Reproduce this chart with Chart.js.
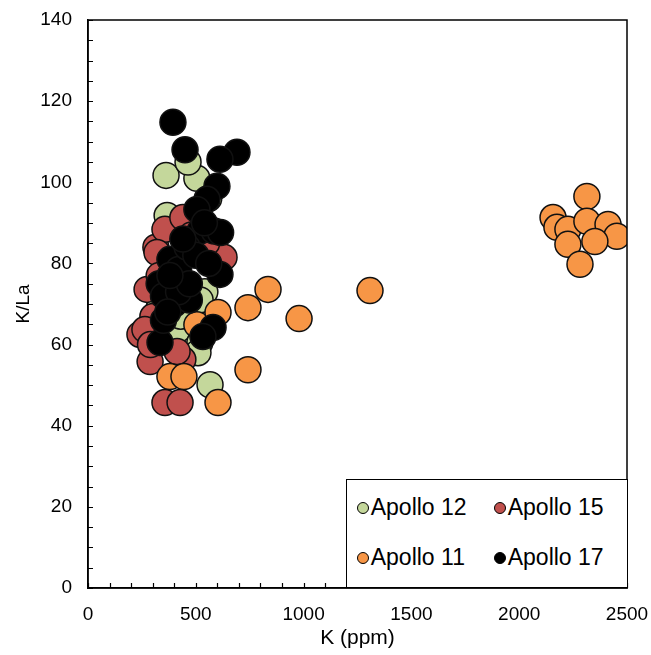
<!DOCTYPE html>
<html>
<head>
<meta charset="utf-8">
<script src="https://cdn.jsdelivr.net/npm/chart.js@4.4.1/dist/chart.umd.min.js"></script>
<style>
  html, body { margin: 0; padding: 0; background: #fff; }
  #wrap { position: relative; width: 651px; height: 655px; }
  #legend {
    position: absolute; background: #fff; border: 1.5px solid #000; box-sizing: border-box;
    font-family: "Liberation Sans", Arial, sans-serif; font-size: 23px; color: #000;
  }
  .item { position: absolute; display: flex; align-items: center; white-space: nowrap; }
  .dot { width: 12px; height: 12px; border-radius: 50%; border: 1.2px solid #000; box-sizing: border-box; margin-right: 2px; }
</style>
</head>
<body>
<div id="wrap">
  <canvas id="chart" width="651" height="655"></canvas>
  <div id="legend"></div>
</div>
<script>
// K (ppm) vs K/La
const apollo12K  = [362, 505, 367, 464, 417, 519, 510, 566, 542, 560, 430, 520, 450, 330]
const apollo12KL = [101.7, 101, 91.8, 105, 63.7, 60.5, 58, 50.1, 73, 96, 67, 71, 75, 69]

const apollo15K  = [315, 357, 440, 631, 274, 241, 288, 440, 357, 427, 301, 264, 413, 320, 550, 480, 330, 380, 290]
const apollo15KL = [84, 88.4, 91.3, 81.5, 73.6, 62.5, 55.8, 56.3, 45.7, 45.7, 66.9, 63.7, 58.3, 82.7, 85, 87, 77, 70, 60]

const apollo11K  = [380, 445, 505, 603, 603, 742, 742, 835, 979, 1308,
                    2314, 2157, 2175, 2226, 2314, 2412, 2453, 2351, 2226, 2282]
const apollo11KL = [52.1, 52.1, 64.9, 67.9, 45.7, 53.8, 69.1, 73.6, 66.4, 73.3,
                    96.5, 91.3, 88.9, 88.4, 90.4, 89.6, 86.7, 85.4, 84.7, 79.8]

const apollo17K  = [394, 450, 691, 612, 598, 552, 505, 520, 585, 615, 612, 334, 580, 533, 380,
                    420, 330, 400, 470, 350, 460, 500, 560, 350, 420, 370, 470, 540, 440, 380]
const apollo17KL = [114.8, 108, 107.4, 105.7, 99, 95.8, 93.3, 88, 88, 87.6, 77.3, 60.5, 64.2, 62, 81,
                    78.5, 75, 70, 71, 66, 84, 82, 80, 72, 73, 68, 75, 90, 86, 77]

// later in the list = drawn on top
const series = [
  { label: "Apollo 12", xs: apollo12K, ys: apollo12KL, color: "#C4D79B" },
  { label: "Apollo 15", xs: apollo15K, ys: apollo15KL, color: "#C0504D" },
  { label: "Apollo 11", xs: apollo11K, ys: apollo11KL, color: "#F79646" },
  { label: "Apollo 17", xs: apollo17K, ys: apollo17KL, color: "#000000" }
]

const font = "'Liberation Sans', Arial, sans-serif"

// inward minor ticks + top/right frame, like the Excel original
const frame = {
  id: "frame",
  afterDraw(chart) {
    const { ctx, chartArea: a, scales: { x, y } } = chart
    ctx.save()
    ctx.strokeStyle = "#000"
    ctx.lineWidth = 1.5
    ctx.strokeRect(a.left, a.top, a.right - a.left, a.bottom - a.top)
    ctx.lineWidth = 1.2
    ctx.beginPath()
    for (let v = 0; v <= 140; v += 5) {
      const py = Math.round(y.getPixelForValue(v)) + 0.5
      ctx.moveTo(a.left, py); ctx.lineTo(a.left + 5, py)
    }
    for (let v = 0; v <= 2500; v += 100) {
      const px = Math.round(x.getPixelForValue(v)) + 0.5
      ctx.moveTo(px, a.bottom); ctx.lineTo(px, a.bottom - 5)
    }
    ctx.stroke()
    ctx.restore()
  },
  afterRender(chart) {
    const a = chart.chartArea
    const lg = document.getElementById("legend")
    const left = chart.scales.x.getPixelForValue(1200)
    lg.style.left = (left - 1) + "px"
    lg.style.top = (a.bottom - 109) + "px"
    lg.style.width = (a.right - left + 2) + "px"
    lg.style.height = "109px"
  }
}

new Chart(document.getElementById("chart"), {
  type: "scatter",
  data: {
    datasets: series.map((s, i) => ({
      label: s.label,
      data: s.xs.map((v, j) => ({ x: v, y: s.ys[j] })),
      order: series.length - i,
      backgroundColor: s.color,
      borderColor: "#111",
      borderWidth: 1.5,
      pointRadius: 13,
      pointHoverRadius: 13
    }))
  },
  options: {
    responsive: false,
    animation: false,
    events: [],
    layout: { padding: { top: 20, right: 24, left: 0, bottom: 0 } },
    plugins: { legend: { display: false }, tooltip: { enabled: false } },
    scales: {
      x: {
        type: "linear", min: 0, max: 2500,
        border: { display: true, color: "#000", width: 1.5 },
        grid: { display: false, drawTicks: false },
        ticks: { stepSize: 500, padding: 15, color: "#000", font: { family: font, size: 19 },
                 callback: v => String(v) },
        title: { display: true, text: "K (ppm)", color: "#000", font: { family: font, size: 21 }, padding: { top: 8 } },
        afterFit(s) { s.height = 67; s.paddingLeft = 0; s.paddingRight = 0 }
      },
      y: {
        type: "linear", min: 0, max: 140,
        border: { display: true, color: "#000", width: 1.5 },
        grid: { display: false, drawTicks: false },
        ticks: { stepSize: 20, padding: 16, color: "#000", font: { family: font, size: 19 } },
        title: { display: true, text: "K/La", color: "#000", font: { family: font, size: 19 }, padding: { bottom: 0, top: 12 } },
        afterFit(s) { s.width = 88; s.paddingTop = 0; s.paddingBottom = 0 }
      }
    }
  },
  plugins: [frame]
})

// legend: 2 columns, order as in the figure
const lg = document.getElementById("legend")
const slots = [[16, 28], [153, 28], [16, 78], [153, 78]]
series.forEach((s, i) => {
  const it = document.createElement("div")
  it.className = "item"
  it.style.left = (slots[i][0] - 6) + "px"
  it.style.top = (slots[i][1] - 14) + "px"
  it.innerHTML = `<span class="dot" style="background:${s.color}"></span><span>${s.label}</span>`
  lg.appendChild(it)
})
</script>
</body>
</html>
